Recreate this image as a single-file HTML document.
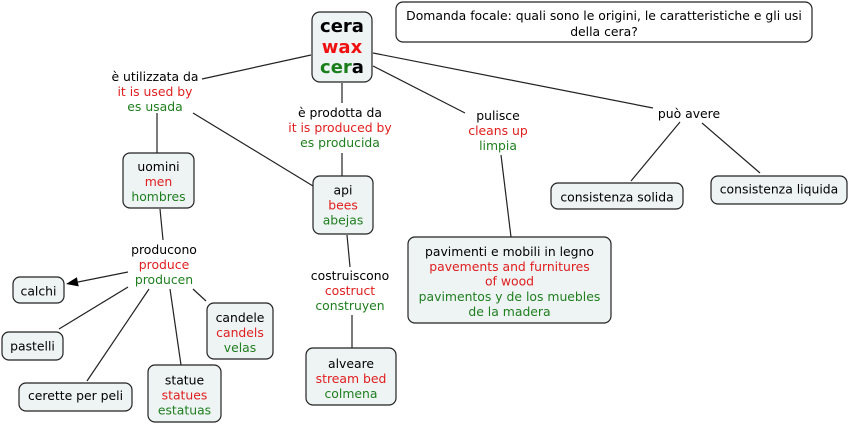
<!DOCTYPE html>
<html>
<head>
<meta charset="utf-8">
<style>
html,body{margin:0;padding:0;background:#fff;}
svg{display:block;}
text{font-family:"DejaVu Sans","Liberation Sans",sans-serif;font-size:12.4px;}
.k{fill:#000;}
.r{fill:#e01e1e;}
.g{fill:#1f7f1f;}
.box{fill:#eef3f4;stroke:#222;stroke-width:1.2;}
.ln{stroke:#222;stroke-width:1.2;fill:none;}
</style>
</head>
<body>
<svg width="850" height="424" viewBox="0 0 850 424" xmlns="http://www.w3.org/2000/svg">
<!-- connectors -->
<line class="ln" x1="311" y1="55" x2="202" y2="79"/>
<line class="ln" x1="342" y1="83" x2="342" y2="103"/>
<line class="ln" x1="373" y1="66" x2="465" y2="113"/>
<line class="ln" x1="373" y1="53" x2="653" y2="108"/>
<line class="ln" x1="157" y1="113" x2="157" y2="153"/>
<line class="ln" x1="193" y1="113" x2="313" y2="186"/>
<line class="ln" x1="342" y1="153" x2="342" y2="176"/>
<line class="ln" x1="160" y1="209" x2="163" y2="240"/>
<line class="ln" x1="128" y1="272" x2="78" y2="282"/>
<polygon points="66,284 78.7,286.4 76.9,277.3" fill="#000"/>
<line class="ln" x1="128" y1="287" x2="59" y2="329"/>
<line class="ln" x1="149" y1="289" x2="87" y2="381"/>
<line class="ln" x1="170" y1="289" x2="181" y2="365"/>
<line class="ln" x1="193" y1="289" x2="206" y2="301"/>
<line class="ln" x1="347" y1="235" x2="350" y2="267"/>
<line class="ln" x1="352" y1="315" x2="352" y2="348"/>
<line class="ln" x1="501" y1="155" x2="511" y2="237"/>
<line class="ln" x1="680" y1="122" x2="631" y2="181"/>
<line class="ln" x1="702" y1="123" x2="760" y2="173"/>

<!-- focal question -->
<rect class="box" x="396" y="2" width="416" height="40" rx="7" style="fill:#fff"/>
<text x="604" y="20" text-anchor="middle" class="k">Domanda focale: quali sono le origini, le caratteristiche e gli usi</text>
<text x="604" y="36" text-anchor="middle" class="k">della cera?</text>

<!-- central -->
<rect class="box" x="312" y="12" width="60" height="70" rx="8"/>
<text x="342" y="32" text-anchor="middle" style="font-size:18px;font-weight:bold" class="k">cera</text>
<text x="342" y="53" text-anchor="middle" style="font-size:18px;font-weight:bold;fill:#f01010">wax</text>
<text x="342" y="73" text-anchor="middle" style="font-size:18px;font-weight:bold"><tspan style="fill:#1a7f1a">cer</tspan><tspan style="fill:#000">a</tspan></text>

<!-- link labels -->
<text x="155" y="81" text-anchor="middle" class="k">è utilizzata da</text>
<text x="155" y="96" text-anchor="middle" class="r">it is used by</text>
<text x="155" y="111" text-anchor="middle" class="g">es usada</text>

<text x="340" y="117" text-anchor="middle" class="k">è prodotta da</text>
<text x="340" y="132" text-anchor="middle" class="r">it is produced by</text>
<text x="340" y="147" text-anchor="middle" class="g">es producida</text>

<text x="498" y="120" text-anchor="middle" class="k">pulisce</text>
<text x="498" y="135" text-anchor="middle" class="r">cleans up</text>
<text x="498" y="150" text-anchor="middle" class="g">limpia</text>

<text x="689" y="118" text-anchor="middle" class="k">può avere</text>

<text x="164" y="254" text-anchor="middle" class="k">producono</text>
<text x="164" y="269" text-anchor="middle" class="r">produce</text>
<text x="164" y="284" text-anchor="middle" class="g">producen</text>

<text x="350" y="280" text-anchor="middle" class="k">costruiscono</text>
<text x="350" y="295" text-anchor="middle" class="r">costruct</text>
<text x="350" y="310" text-anchor="middle" class="g">construyen</text>

<!-- nodes -->
<rect class="box" x="123" y="153" width="71" height="55" rx="7"/>
<text x="158.5" y="171" text-anchor="middle" class="k">uomini</text>
<text x="158.5" y="186" text-anchor="middle" class="r">men</text>
<text x="158.5" y="201" text-anchor="middle" class="g">hombres</text>

<rect class="box" x="313" y="176" width="60" height="58" rx="7"/>
<text x="343" y="194.5" text-anchor="middle" class="k">api</text>
<text x="343" y="209.5" text-anchor="middle" class="r">bees</text>
<text x="343" y="224.5" text-anchor="middle" class="g">abejas</text>

<rect class="box" x="13" y="277" width="51" height="26" rx="7"/>
<text x="38.5" y="295.5" text-anchor="middle" class="k">calchi</text>

<rect class="box" x="2" y="332" width="61" height="28" rx="7"/>
<text x="32.5" y="350.5" text-anchor="middle" class="k">pastelli</text>

<rect class="box" x="19" y="383" width="113" height="28" rx="7"/>
<text x="75.5" y="400" text-anchor="middle" class="k">cerette per peli</text>

<rect class="box" x="148" y="365" width="73" height="57" rx="7"/>
<text x="184.5" y="384.5" text-anchor="middle" class="k">statue</text>
<text x="184.5" y="399.5" text-anchor="middle" class="r">statues</text>
<text x="184.5" y="414.5" text-anchor="middle" class="g">estatuas</text>

<rect class="box" x="207" y="303" width="66" height="56" rx="7"/>
<text x="240" y="322" text-anchor="middle" class="k">candele</text>
<text x="240" y="337" text-anchor="middle" class="r">candels</text>
<text x="240" y="352" text-anchor="middle" class="g">velas</text>

<rect class="box" x="306" y="348" width="90" height="57" rx="7"/>
<text x="351" y="368" text-anchor="middle" class="k">alveare</text>
<text x="351" y="383" text-anchor="middle" class="r">stream bed</text>
<text x="351" y="398" text-anchor="middle" class="g">colmena</text>

<rect class="box" x="408" y="237" width="203" height="86" rx="7"/>
<text x="509.5" y="256" text-anchor="middle" class="k">pavimenti e mobili in legno</text>
<text x="509.5" y="271" text-anchor="middle" class="r">pavements and furnitures</text>
<text x="509.5" y="285.5" text-anchor="middle" class="r">of wood</text>
<text x="509.5" y="301" text-anchor="middle" class="g">pavimentos y de los muebles</text>
<text x="509.5" y="316" text-anchor="middle" class="g">de la madera</text>

<rect class="box" x="551" y="183" width="132" height="26" rx="7"/>
<text x="617" y="201.5" text-anchor="middle" class="k">consistenza solida</text>

<rect class="box" x="711" y="176" width="136" height="28" rx="7"/>
<text x="779" y="193.5" text-anchor="middle" class="k">consistenza liquida</text>
</svg>
</body>
</html>
